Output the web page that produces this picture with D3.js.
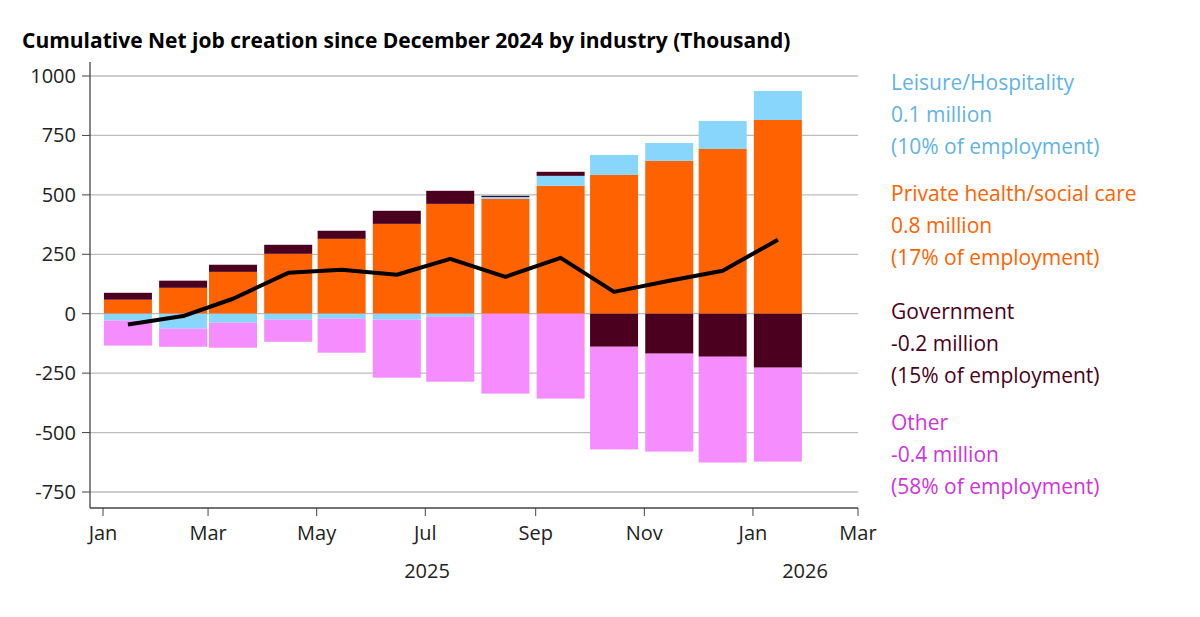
<!DOCTYPE html>
<html>
<head>
<meta charset="utf-8">
<script src="https://cdn.jsdelivr.net/npm/d3@7"></script>
<style>
  body { margin: 0; background: #fff; font-family: "Open Sans", sans-serif; }
</style>
</head>
<body>
<svg id="chart" width="1200" height="617"></svg>
<script>
// monthly data, cumulative since Dec 2024 (thousand)
var months = ["2025-01","2025-02","2025-03","2025-04","2025-05","2025-06","2025-07",
              "2025-08","2025-09","2025-10","2025-11","2025-12","2026-01"];
var health = [59,109,176,252,315,378,462,483,538,584,643,693,815];
var leisure = [-29,-63,-38,-25,-21,-25,-13,8,42,84,75,118,122];
var government = [29,30,30,38,34,55,55,5,17,-139,-168,-181,-227];
var other = [-105,-76,-105,-93,-143,-244,-273,-336,-357,-432,-412,-445,-395];
var total = [-45,-10,63,172,185,164,231,155,235,92,139,181,311];
var yTicks = [1000,750,500,250,0,-250,-500,-750];

var colors = { health: "#FF6200", leisure: "#89D6FD", government: "#4B0020", other: "#F58CFF" };

var svg = d3.select("#chart");
var parse = d3.timeParse("%Y-%m");
var mid = m => d3.timeDay.offset(parse(m), 14);

var x = d3.scaleTime().domain([new Date(2025,0,1), new Date(2026,2,1)]).range([103, 858]);
var y = d3.scaleLinear().domain([-750, 1000]).range([492, 76]);

// title
svg.append("text").attr("x", 22).attr("y", 48)
  .style("font-size", "21px").style("font-weight", "bold").attr("fill", "#000")
  .text("Cumulative Net job creation since December 2024 by industry (Thousand)");

// gridlines
svg.append("g").selectAll("line").data(yTicks).join("line")
  .attr("x1", 90).attr("x2", 858).attr("y1", d => y(d)).attr("y2", d => y(d))
  .attr("stroke", "#bdbdbd").attr("stroke-width", 1.3);

// y labels and ticks
svg.append("g").selectAll("text").data(yTicks).join("text")
  .attr("x", 76).attr("y", d => y(d) + 7).attr("text-anchor", "end")
  .style("font-size", "20px").attr("fill", "#222").text(d => d);
svg.append("g").selectAll("line").data(yTicks).join("line")
  .attr("x1", 82).attr("x2", 90).attr("y1", d => y(d)).attr("y2", d => y(d))
  .attr("stroke", "#444");

// stacked bars
var rows = months.map((m, i) => ({ date: mid(m), health: health[i], leisure: leisure[i], government: government[i], other: other[i] }));
var keys = ["health", "leisure", "government", "other"];
var series = d3.stack().keys(keys).offset(d3.stackOffsetDiverging)(rows);
var bw = 48;
svg.append("g").selectAll("g").data(series).join("g")
  .attr("fill", d => colors[d.key])
  .selectAll("rect").data(d => d).join("rect")
  .attr("x", d => x(d.data.date) - bw / 2)
  .attr("width", bw)
  .attr("y", d => y(Math.max(d[0], d[1])))
  .attr("height", d => Math.abs(y(d[0]) - y(d[1])));

// total line
svg.append("path").datum(total)
  .attr("fill", "none").attr("stroke", "#000").attr("stroke-width", 4).attr("stroke-linejoin", "round")
  .attr("d", d3.line().x((d, i) => x(mid(months[i]))).y(d => y(d)));

// axes lines
svg.append("line").attr("x1", 90).attr("x2", 90).attr("y1", 62).attr("y2", 508).attr("stroke", "#444").attr("stroke-width", 1.3);
svg.append("line").attr("x1", 90).attr("x2", 858).attr("y1", 508).attr("y2", 508).attr("stroke", "#444").attr("stroke-width", 1.3);

var xt = x.ticks(d3.timeMonth.every(2));
svg.append("g").selectAll("line").data(xt).join("line")
  .attr("x1", d => x(d)).attr("x2", d => x(d)).attr("y1", 508).attr("y2", 516).attr("stroke", "#444");
svg.append("g").selectAll("text").data(xt).join("text")
  .attr("x", d => x(d)).attr("y", 540).attr("text-anchor", "middle")
  .style("font-size", "20px").attr("fill", "#222").text(d3.timeFormat("%b"));
svg.append("text").attr("x", 427).attr("y", 578).attr("text-anchor", "middle")
  .style("font-size", "20px").attr("fill", "#222").text("2025");
svg.append("text").attr("x", 805).attr("y", 578).attr("text-anchor", "middle")
  .style("font-size", "20px").attr("fill", "#222").text("2026");

// legend
var legend = [
  { lines: ["Leisure/Hospitality", "0.1 million", "(10% of employment)"], color: "#5FB4E6", y: 90 },
  { lines: ["Private health/social care", "0.8 million", "(17% of employment)"], color: "#FF6200", y: 201 },
  { lines: ["Government", "-0.2 million", "(15% of employment)"], color: "#4B0020", y: 319 },
  { lines: ["Other", "-0.4 million", "(58% of employment)"], color: "#D033DC", y: 430 }
];
legend.forEach(l => {
  l.lines.forEach((t, j) => {
    svg.append("text").attr("x", 891).attr("y", l.y + j * 32)
      .style("font-size", "21px").attr("fill", l.color).text(t);
  });
});
</script>
</body>
</html>
